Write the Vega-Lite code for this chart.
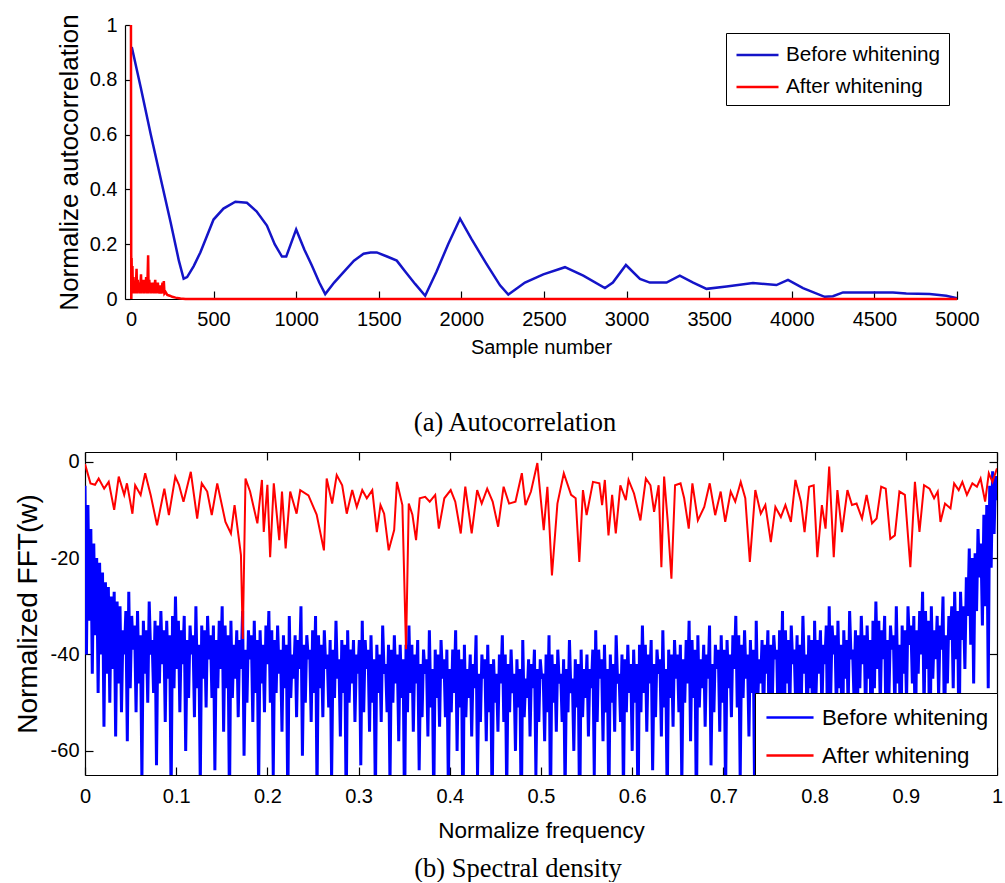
{
"$schema": "https://vega.github.io/schema/vega-lite/v6.json",
"background": "white",
"padding": {"left": 14, "top": 13, "right": 0, "bottom": 0},
"bounds": "flush",
"center": true,
"spacing": 153,
"config": {
 "view": {"stroke": null},
 "axis": {"domainColor": "#000", "tickColor": "#000", "labelColor": "#000", "titleColor": "#000", "grid": false, "labelFlush": false, "labelOverlap": false, "labelFont": "Liberation Sans", "titleFont": "Liberation Sans", "titleFontWeight": "normal", "labelFontSize": 20, "titleFontSize": 20, "domainWidth": 1.2, "tickWidth": 1.2},
 "legend": {"labelColor": "#000", "labelFont": "Liberation Sans", "strokeColor": "#000", "fillColor": "white", "cornerRadius": 0, "labelLimit": 400}
},
"datasets": {
 "acfBefore": [
  {"lag":5,"r":0.92},{"lag":60,"r":0.77},{"lag":120,"r":0.6},{"lag":180,"r":0.44},{"lag":240,"r":0.28},{"lag":290,"r":0.14},{"lag":319,"r":0.074},{"lag":340,"r":0.08},{"lag":380,"r":0.12},{"lag":420,"r":0.17},{"lag":460,"r":0.23},{"lag":500,"r":0.29},{"lag":560,"r":0.33},{"lag":632,"r":0.355},{"lag":702,"r":0.351},{"lag":760,"r":0.32},{"lag":823,"r":0.268},{"lag":870,"r":0.2},{"lag":914,"r":0.155},{"lag":940,"r":0.155},{"lag":1000,"r":0.254},{"lag":1050,"r":0.18},{"lag":1095,"r":0.122},{"lag":1140,"r":0.06},{"lag":1176,"r":0.018},{"lag":1230,"r":0.06},{"lag":1287,"r":0.098},{"lag":1350,"r":0.14},{"lag":1408,"r":0.165},{"lag":1450,"r":0.17},{"lag":1488,"r":0.17},{"lag":1550,"r":0.155},{"lag":1609,"r":0.14},{"lag":1660,"r":0.1},{"lag":1720,"r":0.055},{"lag":1781,"r":0.012},{"lag":1850,"r":0.1},{"lag":1920,"r":0.2},{"lag":1992,"r":0.293},{"lag":2060,"r":0.22},{"lag":2150,"r":0.13},{"lag":2234,"r":0.05},{"lag":2284,"r":0.016},{"lag":2385,"r":0.06},{"lag":2496,"r":0.09},{"lag":2627,"r":0.116},{"lag":2738,"r":0.085},{"lag":2869,"r":0.04},{"lag":2917,"r":0.06},{"lag":2996,"r":0.124},{"lag":3081,"r":0.073},{"lag":3141,"r":0.06},{"lag":3242,"r":0.06},{"lag":3322,"r":0.085},{"lag":3403,"r":0.06},{"lag":3484,"r":0.037},{"lag":3605,"r":0.046},{"lag":3765,"r":0.058},{"lag":3907,"r":0.051},{"lag":3977,"r":0.07},{"lag":4068,"r":0.04},{"lag":4199,"r":0.008},{"lag":4249,"r":0.01},{"lag":4310,"r":0.024},{"lag":4451,"r":0.024},{"lag":4612,"r":0.024},{"lag":4693,"r":0.02},{"lag":4834,"r":0.018},{"lag":4935,"r":0.012},{"lag":5000,"r":0.003}
 ],
 "acfAfter": [
  {"lag":0,"r":1},{"lag":2,"r":0},{"lag":4,"r":0.15},{"lag":6,"r":0.03},{"lag":9,"r":0.12},{"lag":12,"r":0.02},{"lag":15,"r":0.08},{"lag":18,"r":0.03},{"lag":22,"r":0.06},{"lag":26,"r":0.02},{"lag":30,"r":0.05},{"lag":34,"r":0.11},{"lag":37,"r":0.02},{"lag":41,"r":0.07},{"lag":45,"r":0.03},{"lag":49,"r":0.06},{"lag":53,"r":0.02},{"lag":57,"r":0.05},{"lag":61,"r":0.09},{"lag":64,"r":0.02},{"lag":68,"r":0.06},{"lag":72,"r":0.03},{"lag":76,"r":0.07},{"lag":80,"r":0.02},{"lag":84,"r":0.06},{"lag":88,"r":0.03},{"lag":92,"r":0.08},{"lag":96,"r":0.02},{"lag":100,"r":0.06},{"lag":104,"r":0.16},{"lag":107,"r":0.02},{"lag":111,"r":0.07},{"lag":115,"r":0.03},{"lag":119,"r":0.06},{"lag":123,"r":0.02},{"lag":127,"r":0.05},{"lag":131,"r":0.03},{"lag":135,"r":0.06},{"lag":139,"r":0.02},{"lag":143,"r":0.05},{"lag":147,"r":0.07},{"lag":151,"r":0.02},{"lag":155,"r":0.05},{"lag":159,"r":0.03},{"lag":163,"r":0.06},{"lag":167,"r":0.02},{"lag":171,"r":0.04},{"lag":175,"r":0.02},{"lag":179,"r":0.05},{"lag":183,"r":0.02},{"lag":187,"r":0.04},{"lag":191,"r":0.06},{"lag":195,"r":0.02},{"lag":199,"r":0.065},{"lag":203,"r":0.02},{"lag":210,"r":0.025},{"lag":220,"r":0.015},{"lag":235,"r":0.012},{"lag":250,"r":0.008},{"lag":270,"r":0.005},{"lag":300,"r":0.002},{"lag":330,"r":0},{"lag":5000,"r":0}
 ],
 "psdBefore": [
  {"f":0,"db":-5},{"f":0.0016,"db":-40},{"f":0.0032,"db":-9},{"f":0.0048,"db":-33},{"f":0.0064,"db":-14},{"f":0.008,"db":-44},{"f":0.0096,"db":-17},{"f":0.0112,"db":-36},{"f":0.0128,"db":-20},{"f":0.0144,"db":-48},{"f":0.016,"db":-21},{"f":0.0176,"db":-40},{"f":0.0192,"db":-23},{"f":0.0208,"db":-55},{"f":0.0224,"db":-25},{"f":0.024,"db":-44},{"f":0.0256,"db":-26},{"f":0.0272,"db":-50},{"f":0.0288,"db":-28},{"f":0.0304,"db":-43},{"f":0.032,"db":-27},{"f":0.0336,"db":-57},{"f":0.0352,"db":-29},{"f":0.0368,"db":-46},{"f":0.0384,"db":-30},{"f":0.04,"db":-52},
  {"f":0.0416,"db":-35},{"f":0.0432,"db":-40},{"f":0.0448,"db":-31},{"f":0.0464,"db":-58},{"f":0.048,"db":-27},{"f":0.0496,"db":-47},{"f":0.0512,"db":-32},{"f":0.0528,"db":-39},{"f":0.0544,"db":-34},{"f":0.056,"db":-52},{"f":0.0576,"db":-31},{"f":0.0592,"db":-46},{"f":0.0608,"db":-36},{"f":0.0624,"db":-66},{"f":0.064,"db":-33},{"f":0.0656,"db":-44},{"f":0.0672,"db":-35},{"f":0.0688,"db":-50},{"f":0.0704,"db":-29},{"f":0.072,"db":-40},{"f":0.0736,"db":-37},{"f":0.0752,"db":-48},{"f":0.0768,"db":-33},{"f":0.0784,"db":-63},{"f":0.08,"db":-34},{"f":0.0816,"db":-46},{"f":0.0832,"db":-31},{"f":0.0848,"db":-42},{"f":0.0864,"db":-35},{"f":0.088,"db":-54},{"f":0.0896,"db":-33},{"f":0.0912,"db":-45},{"f":0.0928,"db":-36},{"f":0.0944,"db":-70},{"f":0.096,"db":-32},{"f":0.0976,"db":-47},{"f":0.0992,"db":-28},{"f":0.1008,"db":-43},
  {"f":0.1024,"db":-33},{"f":0.104,"db":-52},{"f":0.1056,"db":-35},{"f":0.1072,"db":-42},{"f":0.1088,"db":-32},{"f":0.1104,"db":-60},{"f":0.112,"db":-37},{"f":0.1136,"db":-49},{"f":0.1152,"db":-34},{"f":0.1168,"db":-40},{"f":0.1184,"db":-36},{"f":0.12,"db":-53},{"f":0.1216,"db":-30},{"f":0.1232,"db":-47},{"f":0.1248,"db":-38},{"f":0.1264,"db":-67},{"f":0.128,"db":-34},{"f":0.1296,"db":-45},{"f":0.1312,"db":-35},{"f":0.1328,"db":-51},{"f":0.1344,"db":-32},{"f":0.136,"db":-41},{"f":0.1376,"db":-36},{"f":0.1392,"db":-49},{"f":0.1408,"db":-34},{"f":0.1424,"db":-64},{"f":0.144,"db":-37},{"f":0.1456,"db":-47},{"f":0.1472,"db":-33},{"f":0.1488,"db":-43},
  {"f":0.1504,"db":-30},{"f":0.152,"db":-56},{"f":0.1536,"db":-34},{"f":0.1552,"db":-47},{"f":0.1568,"db":-36},{"f":0.1584,"db":-72},{"f":0.16,"db":-33},{"f":0.1616,"db":-49},{"f":0.1632,"db":-38},{"f":0.1648,"db":-45},{"f":0.1664,"db":-35},{"f":0.168,"db":-53},{"f":0.1696,"db":-37},{"f":0.1712,"db":-43},{"f":0.1728,"db":-31},{"f":0.1744,"db":-61},{"f":0.176,"db":-39},{"f":0.1776,"db":-50},{"f":0.1792,"db":-35},{"f":0.1808,"db":-41},{"f":0.1824,"db":-36},{"f":0.184,"db":-54},{"f":0.1856,"db":-33},{"f":0.1872,"db":-48},{"f":0.1888,"db":-37},{"f":0.1904,"db":-68},{"f":0.192,"db":-35},{"f":0.1936,"db":-46},{"f":0.1952,"db":-38},{"f":0.1968,"db":-52},{"f":0.1984,"db":-34},{"f":0.2,"db":-42},
  {"f":0.2016,"db":-31},{"f":0.2032,"db":-50},{"f":0.2048,"db":-35},{"f":0.2064,"db":-65},{"f":0.208,"db":-37},{"f":0.2096,"db":-48},{"f":0.2112,"db":-34},{"f":0.2128,"db":-44},{"f":0.2144,"db":-39},{"f":0.216,"db":-56},{"f":0.2176,"db":-36},{"f":0.2192,"db":-47},{"f":0.2208,"db":-38},{"f":0.2224,"db":-72},{"f":0.224,"db":-32},{"f":0.2256,"db":-49},{"f":0.2272,"db":-40},{"f":0.2288,"db":-45},{"f":0.2304,"db":-36},{"f":0.232,"db":-53},{"f":0.2336,"db":-37},{"f":0.2352,"db":-43},{"f":0.2368,"db":-30},{"f":0.2384,"db":-61},{"f":0.24,"db":-38},{"f":0.2416,"db":-50},{"f":0.2432,"db":-36},{"f":0.2448,"db":-41},{"f":0.2464,"db":-39},{"f":0.248,"db":-54},{"f":0.2496,"db":-35},{"f":0.2512,"db":-48},
  {"f":0.2528,"db":-32},{"f":0.2544,"db":-69},{"f":0.256,"db":-36},{"f":0.2576,"db":-47},{"f":0.2592,"db":-38},{"f":0.2608,"db":-53},{"f":0.2624,"db":-35},{"f":0.264,"db":-43},{"f":0.2656,"db":-40},{"f":0.2672,"db":-51},{"f":0.2688,"db":-37},{"f":0.2704,"db":-66},{"f":0.272,"db":-39},{"f":0.2736,"db":-49},{"f":0.2752,"db":-33},{"f":0.2768,"db":-45},{"f":0.2784,"db":-41},{"f":0.28,"db":-57},{"f":0.2816,"db":-37},{"f":0.2832,"db":-48},{"f":0.2848,"db":-38},{"f":0.2864,"db":-73},{"f":0.288,"db":-35},{"f":0.2896,"db":-50},{"f":0.2912,"db":-39},{"f":0.2928,"db":-46},{"f":0.2944,"db":-37},{"f":0.296,"db":-54},{"f":0.2976,"db":-40},{"f":0.2992,"db":-44},
  {"f":0.3008,"db":-37},{"f":0.3024,"db":-63},{"f":0.304,"db":-33},{"f":0.3056,"db":-52},{"f":0.3072,"db":-37},{"f":0.3088,"db":-43},{"f":0.3104,"db":-39},{"f":0.312,"db":-56},{"f":0.3136,"db":-36},{"f":0.3152,"db":-50},{"f":0.3168,"db":-41},{"f":0.3184,"db":-70},{"f":0.32,"db":-38},{"f":0.3216,"db":-48},{"f":0.3232,"db":-40},{"f":0.3248,"db":-54},{"f":0.3264,"db":-34},{"f":0.328,"db":-44},{"f":0.3296,"db":-42},{"f":0.3312,"db":-52},{"f":0.3328,"db":-38},{"f":0.3344,"db":-67},{"f":0.336,"db":-39},{"f":0.3376,"db":-50},{"f":0.3392,"db":-36},{"f":0.3408,"db":-46},{"f":0.3424,"db":-40},{"f":0.344,"db":-58},{"f":0.3456,"db":-38},{"f":0.3472,"db":-49},{"f":0.3488,"db":-41},{"f":0.3504,"db":-74},
  {"f":0.352,"db":-38},{"f":0.3536,"db":-52},{"f":0.3552,"db":-34},{"f":0.3568,"db":-48},{"f":0.3584,"db":-38},{"f":0.36,"db":-56},{"f":0.3616,"db":-40},{"f":0.3632,"db":-46},{"f":0.3648,"db":-37},{"f":0.3664,"db":-64},{"f":0.368,"db":-42},{"f":0.3696,"db":-53},{"f":0.3712,"db":-39},{"f":0.3728,"db":-44},{"f":0.3744,"db":-41},{"f":0.376,"db":-57},{"f":0.3776,"db":-35},{"f":0.3792,"db":-51},{"f":0.3808,"db":-43},{"f":0.3824,"db":-71},{"f":0.384,"db":-39},{"f":0.3856,"db":-49},{"f":0.3872,"db":-40},{"f":0.3888,"db":-55},{"f":0.3904,"db":-37},{"f":0.392,"db":-45},{"f":0.3936,"db":-41},{"f":0.3952,"db":-53},{"f":0.3968,"db":-39},{"f":0.3984,"db":-68},
  {"f":0.4,"db":-43},{"f":0.4016,"db":-52},{"f":0.4032,"db":-39},{"f":0.4048,"db":-48},{"f":0.4064,"db":-35},{"f":0.408,"db":-60},{"f":0.4096,"db":-39},{"f":0.4112,"db":-51},{"f":0.4128,"db":-41},{"f":0.4144,"db":-76},{"f":0.416,"db":-38},{"f":0.4176,"db":-53},{"f":0.4192,"db":-43},{"f":0.4208,"db":-49},{"f":0.4224,"db":-40},{"f":0.424,"db":-57},{"f":0.4256,"db":-42},{"f":0.4272,"db":-47},{"f":0.4288,"db":-36},{"f":0.4304,"db":-65},{"f":0.432,"db":-44},{"f":0.4336,"db":-54},{"f":0.4352,"db":-40},{"f":0.4368,"db":-45},{"f":0.4384,"db":-41},{"f":0.44,"db":-58},{"f":0.4416,"db":-38},{"f":0.4432,"db":-52},{"f":0.4448,"db":-42},{"f":0.4464,"db":-72},
  {"f":0.448,"db":-41},{"f":0.4496,"db":-50},{"f":0.4512,"db":-44},{"f":0.4528,"db":-56},{"f":0.4544,"db":-40},{"f":0.456,"db":-46},{"f":0.4576,"db":-36},{"f":0.4592,"db":-54},{"f":0.4608,"db":-40},{"f":0.4624,"db":-69},{"f":0.464,"db":-42},{"f":0.4656,"db":-52},{"f":0.4672,"db":-39},{"f":0.4688,"db":-48},{"f":0.4704,"db":-44},{"f":0.472,"db":-60},{"f":0.4736,"db":-41},{"f":0.4752,"db":-51},{"f":0.4768,"db":-43},{"f":0.4784,"db":-76},{"f":0.48,"db":-37},{"f":0.4816,"db":-53},{"f":0.4832,"db":-45},{"f":0.4848,"db":-49},{"f":0.4864,"db":-41},{"f":0.488,"db":-57},{"f":0.4896,"db":-42},{"f":0.4912,"db":-47},{"f":0.4928,"db":-39},{"f":0.4944,"db":-65},{"f":0.496,"db":-43},{"f":0.4976,"db":-54},
  {"f":0.4992,"db":-41},{"f":0.5008,"db":-45},{"f":0.5024,"db":-44},{"f":0.504,"db":-58},{"f":0.5056,"db":-40},{"f":0.5072,"db":-52},{"f":0.5088,"db":-36},{"f":0.5104,"db":-72},{"f":0.512,"db":-40},{"f":0.5136,"db":-50},{"f":0.5152,"db":-42},{"f":0.5168,"db":-56},{"f":0.5184,"db":-39},{"f":0.52,"db":-46},{"f":0.5216,"db":-44},{"f":0.5232,"db":-54},{"f":0.5248,"db":-41},{"f":0.5264,"db":-69},{"f":0.528,"db":-43},{"f":0.5296,"db":-52},{"f":0.5312,"db":-37},{"f":0.5328,"db":-48},{"f":0.5344,"db":-45},{"f":0.536,"db":-60},{"f":0.5376,"db":-41},{"f":0.5392,"db":-51},{"f":0.5408,"db":-42},{"f":0.5424,"db":-76},{"f":0.544,"db":-39},{"f":0.5456,"db":-53},{"f":0.5472,"db":-43},{"f":0.5488,"db":-49},
  {"f":0.5504,"db":-40},{"f":0.552,"db":-57},{"f":0.5536,"db":-43},{"f":0.5552,"db":-47},{"f":0.5568,"db":-39},{"f":0.5584,"db":-65},{"f":0.56,"db":-35},{"f":0.5616,"db":-54},{"f":0.5632,"db":-39},{"f":0.5648,"db":-45},{"f":0.5664,"db":-41},{"f":0.568,"db":-58},{"f":0.5696,"db":-38},{"f":0.5712,"db":-52},{"f":0.5728,"db":-43},{"f":0.5744,"db":-72},{"f":0.576,"db":-40},{"f":0.5776,"db":-50},{"f":0.5792,"db":-42},{"f":0.5808,"db":-56},{"f":0.5824,"db":-36},{"f":0.584,"db":-46},{"f":0.5856,"db":-44},{"f":0.5872,"db":-54},{"f":0.5888,"db":-40},{"f":0.5904,"db":-69},{"f":0.592,"db":-41},{"f":0.5936,"db":-52},{"f":0.5952,"db":-38},{"f":0.5968,"db":-48},{"f":0.5984,"db":-42},{"f":0.6,"db":-60},
  {"f":0.6016,"db":-39},{"f":0.6032,"db":-50},{"f":0.6048,"db":-42},{"f":0.6064,"db":-75},{"f":0.608,"db":-38},{"f":0.6096,"db":-52},{"f":0.6112,"db":-34},{"f":0.6128,"db":-48},{"f":0.6144,"db":-38},{"f":0.616,"db":-56},{"f":0.6176,"db":-40},{"f":0.6192,"db":-46},{"f":0.6208,"db":-37},{"f":0.6224,"db":-64},{"f":0.624,"db":-42},{"f":0.6256,"db":-53},{"f":0.6272,"db":-39},{"f":0.6288,"db":-44},{"f":0.6304,"db":-41},{"f":0.632,"db":-57},{"f":0.6336,"db":-35},{"f":0.6352,"db":-51},{"f":0.6368,"db":-43},{"f":0.6384,"db":-71},{"f":0.64,"db":-39},{"f":0.6416,"db":-49},{"f":0.6432,"db":-40},{"f":0.6448,"db":-55},{"f":0.6464,"db":-37},{"f":0.648,"db":-45},
  {"f":0.6496,"db":-40},{"f":0.6512,"db":-52},{"f":0.6528,"db":-38},{"f":0.6544,"db":-67},{"f":0.656,"db":-41},{"f":0.6576,"db":-50},{"f":0.6592,"db":-37},{"f":0.6608,"db":-46},{"f":0.6624,"db":-33},{"f":0.664,"db":-58},{"f":0.6656,"db":-37},{"f":0.6672,"db":-49},{"f":0.6688,"db":-39},{"f":0.6704,"db":-74},{"f":0.672,"db":-36},{"f":0.6736,"db":-51},{"f":0.6752,"db":-41},{"f":0.6768,"db":-47},{"f":0.6784,"db":-38},{"f":0.68,"db":-55},{"f":0.6816,"db":-40},{"f":0.6832,"db":-45},{"f":0.6848,"db":-34},{"f":0.6864,"db":-63},{"f":0.688,"db":-42},{"f":0.6896,"db":-52},{"f":0.6912,"db":-38},{"f":0.6928,"db":-43},{"f":0.6944,"db":-39},{"f":0.696,"db":-56},{"f":0.6976,"db":-36},{"f":0.6992,"db":-50},
  {"f":0.7008,"db":-39},{"f":0.7024,"db":-69},{"f":0.704,"db":-37},{"f":0.7056,"db":-47},{"f":0.7072,"db":-40},{"f":0.7088,"db":-53},{"f":0.7104,"db":-36},{"f":0.712,"db":-43},{"f":0.7136,"db":-32},{"f":0.7152,"db":-51},{"f":0.7168,"db":-36},{"f":0.7184,"db":-66},{"f":0.72,"db":-38},{"f":0.7216,"db":-49},{"f":0.7232,"db":-35},{"f":0.7248,"db":-45},{"f":0.7264,"db":-40},{"f":0.728,"db":-57},{"f":0.7296,"db":-37},{"f":0.7312,"db":-48},{"f":0.7328,"db":-39},{"f":0.7344,"db":-73},{"f":0.736,"db":-33},{"f":0.7376,"db":-50},{"f":0.7392,"db":-41},{"f":0.7408,"db":-46},{"f":0.7424,"db":-37},{"f":0.744,"db":-54},{"f":0.7456,"db":-38},{"f":0.7472,"db":-44},{"f":0.7488,"db":-35},{"f":0.7504,"db":-62},
  {"f":0.752,"db":-38},{"f":0.7536,"db":-50},{"f":0.7552,"db":-36},{"f":0.7568,"db":-41},{"f":0.7584,"db":-39},{"f":0.76,"db":-54},{"f":0.7616,"db":-35},{"f":0.7632,"db":-48},{"f":0.7648,"db":-31},{"f":0.7664,"db":-68},{"f":0.768,"db":-35},{"f":0.7696,"db":-46},{"f":0.7712,"db":-37},{"f":0.7728,"db":-52},{"f":0.7744,"db":-34},{"f":0.776,"db":-42},{"f":0.7776,"db":-39},{"f":0.7792,"db":-50},{"f":0.7808,"db":-36},{"f":0.7824,"db":-65},{"f":0.784,"db":-38},{"f":0.7856,"db":-48},{"f":0.7872,"db":-32},{"f":0.7888,"db":-44},{"f":0.7904,"db":-40},{"f":0.792,"db":-56},{"f":0.7936,"db":-36},{"f":0.7952,"db":-47},{"f":0.7968,"db":-37},{"f":0.7984,"db":-72},
  {"f":0.8,"db":-33},{"f":0.8016,"db":-48},{"f":0.8032,"db":-37},{"f":0.8048,"db":-44},{"f":0.8064,"db":-35},{"f":0.808,"db":-52},{"f":0.8096,"db":-38},{"f":0.8112,"db":-42},{"f":0.8128,"db":-34},{"f":0.8144,"db":-60},{"f":0.816,"db":-30},{"f":0.8176,"db":-49},{"f":0.8192,"db":-34},{"f":0.8208,"db":-40},{"f":0.8224,"db":-36},{"f":0.824,"db":-53},{"f":0.8256,"db":-33},{"f":0.8272,"db":-47},{"f":0.8288,"db":-38},{"f":0.8304,"db":-67},{"f":0.832,"db":-35},{"f":0.8336,"db":-45},{"f":0.8352,"db":-37},{"f":0.8368,"db":-51},{"f":0.8384,"db":-31},{"f":0.84,"db":-41},{"f":0.8416,"db":-39},{"f":0.8432,"db":-49},{"f":0.8448,"db":-35},{"f":0.8464,"db":-64},{"f":0.848,"db":-36},{"f":0.8496,"db":-47},
  {"f":0.8512,"db":-32},{"f":0.8528,"db":-42},{"f":0.8544,"db":-36},{"f":0.856,"db":-54},{"f":0.8576,"db":-34},{"f":0.8592,"db":-45},{"f":0.8608,"db":-37},{"f":0.8624,"db":-70},{"f":0.864,"db":-33},{"f":0.8656,"db":-47},{"f":0.8672,"db":-29},{"f":0.8688,"db":-43},{"f":0.8704,"db":-33},{"f":0.872,"db":-51},{"f":0.8736,"db":-35},{"f":0.8752,"db":-41},{"f":0.8768,"db":-32},{"f":0.8784,"db":-59},{"f":0.88,"db":-37},{"f":0.8816,"db":-48},{"f":0.8832,"db":-34},{"f":0.8848,"db":-39},{"f":0.8864,"db":-36},{"f":0.888,"db":-52},{"f":0.8896,"db":-30},{"f":0.8912,"db":-46},{"f":0.8928,"db":-38},{"f":0.8944,"db":-66},{"f":0.896,"db":-34},{"f":0.8976,"db":-44},{"f":0.8992,"db":-35},{"f":0.9008,"db":-50},
  {"f":0.9024,"db":-30},{"f":0.904,"db":-38},{"f":0.9056,"db":-34},{"f":0.9072,"db":-46},{"f":0.9088,"db":-32},{"f":0.9104,"db":-61},{"f":0.912,"db":-35},{"f":0.9136,"db":-44},{"f":0.9152,"db":-31},{"f":0.9168,"db":-40},{"f":0.9184,"db":-27},{"f":0.92,"db":-52},{"f":0.9216,"db":-31},{"f":0.9232,"db":-43},{"f":0.9248,"db":-33},{"f":0.9264,"db":-68},{"f":0.928,"db":-30},{"f":0.9296,"db":-45},{"f":0.9312,"db":-35},{"f":0.9328,"db":-41},{"f":0.9344,"db":-32},{"f":0.936,"db":-49},{"f":0.9376,"db":-34},{"f":0.9392,"db":-39},{"f":0.9408,"db":-28},{"f":0.9424,"db":-57},{"f":0.944,"db":-36},{"f":0.9456,"db":-46},{"f":0.9472,"db":-32},{"f":0.9488,"db":-37},
  {"f":0.9504,"db":-30},{"f":0.952,"db":-47},{"f":0.9536,"db":-27},{"f":0.9552,"db":-41},{"f":0.9568,"db":-31},{"f":0.9584,"db":-61},{"f":0.96,"db":-27},{"f":0.9616,"db":-37},{"f":0.9632,"db":-30},{"f":0.9648,"db":-43},{"f":0.9664,"db":-24},{"f":0.968,"db":-32},{"f":0.9696,"db":-18},{"f":0.9712,"db":-38},{"f":0.9728,"db":-20},{"f":0.9744,"db":-46},{"f":0.976,"db":-19},{"f":0.9776,"db":-31},{"f":0.9792,"db":-14},{"f":0.9808,"db":-24},{"f":0.9824,"db":-17},{"f":0.984,"db":-34},{"f":0.9856,"db":-11},{"f":0.9872,"db":-30},{"f":0.9888,"db":-9},{"f":0.9904,"db":-47},{"f":0.992,"db":-5},{"f":0.9936,"db":-22},{"f":0.9952,"db":-2},{"f":0.9968,"db":-15},{"f":0.9984,"db":-3},{"f":1,"db":-8}
 ],
 "psdAfter": [
  {"f":0,"db":-0.5},{"f":0.006,"db":-4.5},{"f":0.011,"db":-4.8},{"f":0.015,"db":-3.5},{"f":0.021,"db":-5.6},{"f":0.026,"db":-4.2},{"f":0.032,"db":-10},{"f":0.037,"db":-3.1},{"f":0.043,"db":-6.9},{"f":0.046,"db":-4.5},{"f":0.052,"db":-10.8},{"f":0.055,"db":-4.9},{"f":0.061,"db":-6.9},{"f":0.066,"db":-2.4},{"f":0.072,"db":-6.9},{"f":0.079,"db":-13.2},{"f":0.087,"db":-5.6},{"f":0.092,"db":-11.1},{"f":0.099,"db":-3.1},{"f":0.103,"db":-4.8},{"f":0.108,"db":-8.3},{"f":0.116,"db":-2.1},{"f":0.123,"db":-11.8},{"f":0.128,"db":-4.5},{"f":0.134,"db":-6.2},{"f":0.139,"db":-11.1},{"f":0.145,"db":-4.5},{"f":0.154,"db":-12.5},{"f":0.16,"db":-14.9},{"f":0.164,"db":-9},{"f":0.171,"db":-19.4},{"f":0.173,"db":-36.8},{"f":0.176,"db":-3.5},{"f":0.181,"db":-6.2},{"f":0.189,"db":-12.8},{"f":0.194,"db":-3.8},{"f":0.196,"db":-14.6},{"f":0.2,"db":-4.8},{"f":0.203,"db":-19.8},{"f":0.207,"db":-4.5},{"f":0.213,"db":-16.3},{"f":0.216,"db":-6.2},{"f":0.22,"db":-18},{"f":0.225,"db":-6.2},{"f":0.232,"db":-10.8},{"f":0.236,"db":-5.9},{"f":0.245,"db":-7},{"f":0.254,"db":-11},{"f":0.262,"db":-18.4},{"f":0.265,"db":-3.5},{"f":0.271,"db":-8.7},{"f":0.276,"db":-2.8},{"f":0.282,"db":-4.9},{"f":0.287,"db":-10.8},{"f":0.293,"db":-5.9},{"f":0.298,"db":-9.4},{"f":0.304,"db":-5.9},{"f":0.309,"db":-7.6},{"f":0.315,"db":-5.9},{"f":0.32,"db":-14.6},{"f":0.324,"db":-9},{"f":0.328,"db":-10.8},{"f":0.333,"db":-18.4},{"f":0.339,"db":-14.2},{"f":0.342,"db":-4.2},{"f":0.348,"db":-9},{"f":0.352,"db":-38.9},{"f":0.355,"db":-8.7},{"f":0.359,"db":-11},{"f":0.363,"db":-16.3},{"f":0.367,"db":-7.6},{"f":0.373,"db":-7.3},{"f":0.378,"db":-8.3},{"f":0.384,"db":-6.9},{"f":0.388,"db":-13.9},{"f":0.394,"db":-7.6},{"f":0.401,"db":-5.9},{"f":0.406,"db":-8.3},{"f":0.412,"db":-14.9},{"f":0.417,"db":-5.2},{"f":0.424,"db":-14.9},{"f":0.43,"db":-5.9},{"f":0.435,"db":-8.7},{"f":0.441,"db":-5.6},{"f":0.447,"db":-8.3},{"f":0.453,"db":-13.5},{"f":0.459,"db":-5.2},{"f":0.465,"db":-8.7},{"f":0.472,"db":-8.3},{"f":0.479,"db":-2.4},{"f":0.483,"db":-9},{"f":0.489,"db":-6.2},{"f":0.496,"db":-0.3},{"f":0.503,"db":-14.2},{"f":0.507,"db":-5.2},{"f":0.512,"db":-23.6},{"f":0.518,"db":-8.7},{"f":0.525,"db":-2.4},{"f":0.533,"db":-6.9},{"f":0.538,"db":-7.6},{"f":0.542,"db":-20.8},{"f":0.546,"db":-5.9},{"f":0.55,"db":-11.1},{"f":0.557,"db":-4.2},{"f":0.564,"db":-4.5},{"f":0.567,"db":-9},{"f":0.57,"db":-3.8},{"f":0.574,"db":-15.3},{"f":0.578,"db":-6.9},{"f":0.582,"db":-14.9},{"f":0.587,"db":-4.9},{"f":0.593,"db":-8},{"f":0.596,"db":-3.8},{"f":0.602,"db":-6.6},{"f":0.609,"db":-12.2},{"f":0.615,"db":-3.5},{"f":0.62,"db":-4.9},{"f":0.624,"db":-10.4},{"f":0.629,"db":-4.9},{"f":0.632,"db":-21.9},{"f":0.635,"db":-3.1},{"f":0.639,"db":-12.5},{"f":0.643,"db":-24.3},{"f":0.647,"db":-4.9},{"f":0.653,"db":-4.5},{"f":0.657,"db":-7.6},{"f":0.662,"db":-13.9},{"f":0.666,"db":-4.5},{"f":0.672,"db":-12.2},{"f":0.679,"db":-9.4},{"f":0.685,"db":-4.5},{"f":0.691,"db":-11.1},{"f":0.697,"db":-6.2},{"f":0.702,"db":-12.5},{"f":0.708,"db":-6.2},{"f":0.713,"db":-8.3},{"f":0.719,"db":-4.2},{"f":0.724,"db":-7.6},{"f":0.729,"db":-20.8},{"f":0.735,"db":-5.9},{"f":0.741,"db":-10.8},{"f":0.746,"db":-9},{"f":0.752,"db":-16.7},{"f":0.757,"db":-9.4},{"f":0.763,"db":-11.5},{"f":0.768,"db":-9},{"f":0.774,"db":-12.5},{"f":0.779,"db":-3.8},{"f":0.785,"db":-8.3},{"f":0.789,"db":-14.6},{"f":0.794,"db":-5.2},{"f":0.799,"db":-4.9},{"f":0.803,"db":-19.8},{"f":0.808,"db":-9},{"f":0.812,"db":-13.9},{"f":0.816,"db":-1},{"f":0.821,"db":-19.8},{"f":0.825,"db":-5.9},{"f":0.83,"db":-14.6},{"f":0.836,"db":-5.9},{"f":0.841,"db":-9},{"f":0.846,"db":-8.7},{"f":0.852,"db":-11.8},{"f":0.857,"db":-6.9},{"f":0.863,"db":-12.8},{"f":0.868,"db":-11.8},{"f":0.873,"db":-5.2},{"f":0.878,"db":-5.6},{"f":0.883,"db":-16},{"f":0.888,"db":-15.3},{"f":0.893,"db":-6.2},{"f":0.899,"db":-6.9},{"f":0.905,"db":-21.9},{"f":0.91,"db":-4.2},{"f":0.915,"db":-14.6},{"f":0.92,"db":-4.9},{"f":0.926,"db":-5.6},{"f":0.931,"db":-7.6},{"f":0.935,"db":-6.2},{"f":0.938,"db":-12.5},{"f":0.943,"db":-8.7},{"f":0.949,"db":-9.7},{"f":0.953,"db":-4.5},{"f":0.958,"db":-5.9},{"f":0.962,"db":-4.2},{"f":0.967,"db":-6.9},{"f":0.973,"db":-4.5},{"f":0.978,"db":-5.2},{"f":0.982,"db":-3.5},{"f":0.987,"db":-8.3},{"f":0.991,"db":-2.4},{"f":0.995,"db":-4.2},{"f":1,"db":-1.4}
 ]
},
"resolve": {"scale": {"x": "independent", "y": "independent", "color": "independent"}, "legend": {"color": "independent"}},
"vconcat": [
 {
  "width": 832, "height": 274,
  "title": {"text": "(a) Autocorrelation", "orient": "bottom", "anchor": "middle", "font": "Liberation Serif", "fontSize": 26.5, "fontWeight": "normal", "color": "#000", "offset": 53, "dx": -26},
  "encoding": {
   "x": {"field": "lag", "type": "quantitative", "scale": {"domain": [-36, 5000], "nice": false, "zero": false},
     "axis": {"title": "Sample number", "values": [0,500,1000,1500,2000,2500,3000,3500,4000,4500,5000], "format": "d", "tickSize": -8, "labelPadding": 18, "titlePadding": 8}},
   "y": {"field": "r", "type": "quantitative", "scale": {"domain": [0, 1], "nice": false, "zero": false},
     "axis": {"title": "Normalize autocorrelation", "titleFontSize": 26, "values": [0,0.2,0.4,0.6,0.8,1], "format": "~g", "tickSize": -5, "labelPadding": 13, "titlePadding": 7}}
  },
  "layer": [
   {"data": {"name": "acfBefore"}, "mark": {"type": "line", "strokeWidth": 2.5},
    "encoding": {"color": {"datum": "Before whitening", "type": "nominal",
      "scale": {"domain": ["Before whitening", "After whitening"], "range": ["#1414c8", "#ff0000"]},
      "legend": {"title": null, "orient": "top-right", "offset": 8, "symbolType": "M-0.92,0H2.44", "symbolSize": 625, "symbolStrokeWidth": 2.5, "labelFontSize": 20.7, "padding": 8, "rowPadding": 8, "labelOffset": 24}}}},
   {"data": {"name": "acfAfter"}, "mark": {"type": "line", "strokeWidth": 2.5},
    "encoding": {"color": {"datum": "After whitening", "type": "nominal"}}}
  ]
 },
 {
  "width": 912, "height": 323,
  "title": {"text": "(b) Spectral density", "orient": "bottom", "anchor": "middle", "font": "Liberation Serif", "fontSize": 26.5, "fontWeight": "normal", "color": "#000", "offset": 14, "dx": -23},
  "encoding": {
   "x": {"field": "f", "type": "quantitative", "scale": {"domain": [0, 1], "nice": false, "zero": false},
     "axis": {"title": "Normalize frequency", "titleFontSize": 22.5, "values": [0,0.1,0.2,0.3,0.4,0.5,0.6,0.7,0.8,0.9,1], "format": "~g", "tickSize": -8, "labelPadding": 19, "titlePadding": 13}},
   "y": {"field": "db", "type": "quantitative", "scale": {"domain": [-65, 2], "nice": false, "zero": false},
     "axis": {"title": "Normalized FFT(w)", "titleFontSize": 28, "values": [-60,-40,-20,0], "labelExpr": "'' + datum.value", "tickSize": -8, "labelPadding": 14, "titlePadding": 8}}
  },
  "layer": [
   {"data": {"name": "psdBefore"}, "mark": {"type": "line", "strokeWidth": 3, "clip": true},
    "encoding": {"color": {"datum": "Before whitening", "type": "nominal",
      "scale": {"domain": ["Before whitening", "After whitening"], "range": ["#0000ff", "#ff0000"]},
      "legend": {"title": null, "orient": "bottom-right", "offset": 0, "symbolType": "M-0.87,0H2.27", "symbolSize": 900, "symbolStrokeWidth": 2.5, "labelFontSize": 22.3, "padding": 8, "rowPadding": 10, "labelOffset": 26}}}},
   {"data": {"name": "psdAfter"}, "mark": {"type": "line", "strokeWidth": 2, "clip": true},
    "encoding": {
     "x": {"field": "f", "type": "quantitative", "scale": {"domain": [0, 1], "nice": false, "zero": false},
       "axis": {"orient": "top", "labels": false, "title": null, "values": [0,0.1,0.2,0.3,0.4,0.5,0.6,0.7,0.8,0.9,1], "tickSize": -8}},
     "y": {"field": "db", "type": "quantitative", "scale": {"domain": [-65, 2], "nice": false, "zero": false},
       "axis": {"orient": "right", "labels": false, "title": null, "values": [-60,-40,-20,0], "tickSize": -8}},
     "color": {"datum": "After whitening", "type": "nominal"}}}
  ],
  "resolve": {"axis": {"x": "independent", "y": "independent"}}
 }
]
}
